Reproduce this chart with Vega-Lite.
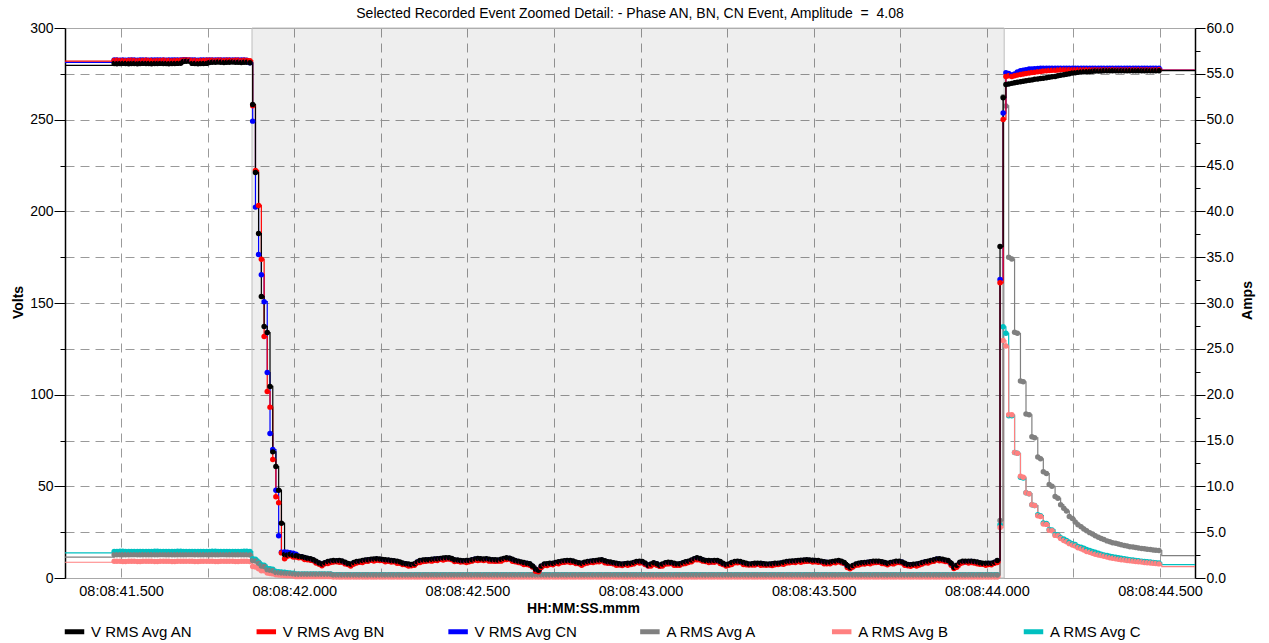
{
  "$schema": "https://vega.github.io/schema/vega-lite/v6.json",
  "width": 1130,
  "height": 550,
  "autosize": {"type": "none"},
  "padding": {"left": 65, "top": 28, "right": 74, "bottom": 65},
  "background": "white",
  "title": {
    "text": "Selected Recorded Event Zoomed Detail: - Phase AN, BN, CN Event, Amplitude\u00a0 =\u00a0 4.08",
    "font": "Liberation Sans",
    "fontSize": 14,
    "fontWeight": "normal",
    "color": "#000000",
    "anchor": "middle",
    "frame": "group",
    "offset": 0
  },
  "config": {
    "font": "Liberation Sans",
    "view": {"stroke": "#a8a8a8", "strokeWidth": 1},
    "axis": {
      "labelFont": "Liberation Sans",
      "titleFont": "Liberation Sans",
      "labelColor": "#000000",
      "titleColor": "#000000",
      "labelFontSize": 14,
      "titleFontSize": 14,
      "titleFontWeight": "bold",
      "gridColor": "#9a9a9a",
      "gridDash": [9, 6],
      "gridWidth": 1,
      "tickColor": "#000000",
      "domainColor": "#000000"
    }
  },
  "datasets": {
    "shade": [{"t": 41.878, "t2": 44.05}],
    "rms": [
      {"t":41.338,"an":279.6,"bn":281.9,"cn":281.3,"a":2.27,"b":1.72,"c":2.75},
      {"t":41.48,"an":280.6,"bn":282.3,"cn":282.5,"a":2.54,"b":1.82,"c":2.9},
      {"t":41.488,"an":280.5,"bn":282.4,"cn":282.5,"a":2.54,"b":1.82,"c":2.9},
      {"t":41.497,"an":280.6,"bn":282.3,"cn":282.4,"a":2.53,"b":1.82,"c":2.91},
      {"t":41.505,"an":280.7,"bn":282.3,"cn":282.5,"a":2.53,"b":1.81,"c":2.91},
      {"t":41.513,"an":280.6,"bn":282.2,"cn":282.4,"a":2.54,"b":1.81,"c":2.9},
      {"t":41.522,"an":280.5,"bn":282.3,"cn":282.5,"a":2.54,"b":1.82,"c":2.9},
      {"t":41.53,"an":280.6,"bn":282.4,"cn":282.6,"a":2.55,"b":1.82,"c":2.9},
      {"t":41.538,"an":280.6,"bn":282.3,"cn":282.5,"a":2.55,"b":1.82,"c":2.9},
      {"t":41.547,"an":280.5,"bn":282.2,"cn":282.4,"a":2.54,"b":1.81,"c":2.89},
      {"t":41.555,"an":280.6,"bn":282.3,"cn":282.5,"a":2.54,"b":1.81,"c":2.89},
      {"t":41.563,"an":280.7,"bn":282.3,"cn":282.5,"a":2.53,"b":1.82,"c":2.9},
      {"t":41.572,"an":280.6,"bn":282.4,"cn":282.5,"a":2.53,"b":1.82,"c":2.9},
      {"t":41.58,"an":280.6,"bn":282.3,"cn":282.4,"a":2.54,"b":1.82,"c":2.9},
      {"t":41.588,"an":280.5,"bn":282.3,"cn":282.5,"a":2.54,"b":1.82,"c":2.9},
      {"t":41.597,"an":280.6,"bn":282.2,"cn":282.5,"a":2.54,"b":1.81,"c":2.91},
      {"t":41.605,"an":280.6,"bn":282.3,"cn":282.6,"a":2.54,"b":1.81,"c":2.91},
      {"t":41.613,"an":280.7,"bn":282.3,"cn":282.5,"a":2.55,"b":1.82,"c":2.9},
      {"t":41.622,"an":280.6,"bn":282.4,"cn":282.5,"a":2.55,"b":1.82,"c":2.9},
      {"t":41.63,"an":280.6,"bn":282.3,"cn":282.4,"a":2.54,"b":1.82,"c":2.9},
      {"t":41.638,"an":280.5,"bn":282.3,"cn":282.5,"a":2.54,"b":1.82,"c":2.9},
      {"t":41.647,"an":280.6,"bn":282.2,"cn":282.5,"a":2.53,"b":1.81,"c":2.9},
      {"t":41.655,"an":280.6,"bn":282.3,"cn":282.5,"a":2.53,"b":1.81,"c":2.9},
      {"t":41.663,"an":280.7,"bn":282.3,"cn":282.6,"a":2.54,"b":1.82,"c":2.91},
      {"t":41.672,"an":280.8,"bn":282.4,"cn":282.6,"a":2.54,"b":1.82,"c":2.91},
      {"t":41.68,"an":281.7,"bn":282.5,"cn":282.7,"a":2.54,"b":1.82,"c":2.9},
      {"t":41.688,"an":281.9,"bn":282.6,"cn":282.7,"a":2.54,"b":1.82,"c":2.9},
      {"t":41.697,"an":281.8,"bn":282.5,"cn":282.6,"a":2.55,"b":1.82,"c":2.9},
      {"t":41.705,"an":280.7,"bn":282.3,"cn":282.5,"a":2.55,"b":1.82,"c":2.9},
      {"t":41.713,"an":280.6,"bn":282.3,"cn":282.5,"a":2.54,"b":1.81,"c":2.9},
      {"t":41.722,"an":280.5,"bn":282.2,"cn":282.4,"a":2.54,"b":1.81,"c":2.9},
      {"t":41.73,"an":280.6,"bn":282.3,"cn":282.5,"a":2.54,"b":1.82,"c":2.9},
      {"t":41.738,"an":280.6,"bn":282.3,"cn":282.5,"a":2.54,"b":1.82,"c":2.9},
      {"t":41.747,"an":280.7,"bn":282.4,"cn":282.5,"a":2.53,"b":1.82,"c":2.9},
      {"t":41.755,"an":281.2,"bn":282.4,"cn":282.6,"a":2.53,"b":1.82,"c":2.9},
      {"t":41.763,"an":281.3,"bn":282.4,"cn":282.6,"a":2.54,"b":1.82,"c":2.91},
      {"t":41.772,"an":281.3,"bn":282.3,"cn":282.5,"a":2.54,"b":1.81,"c":2.91},
      {"t":41.78,"an":281.4,"bn":282.4,"cn":282.6,"a":2.54,"b":1.81,"c":2.9},
      {"t":41.788,"an":281.3,"bn":282.4,"cn":282.6,"a":2.55,"b":1.82,"c":2.9},
      {"t":41.797,"an":281.2,"bn":282.3,"cn":282.5,"a":2.55,"b":1.82,"c":2.9},
      {"t":41.805,"an":281.3,"bn":282.4,"cn":282.5,"a":2.54,"b":1.82,"c":2.9},
      {"t":41.813,"an":281.3,"bn":282.4,"cn":282.6,"a":2.54,"b":1.82,"c":2.9},
      {"t":41.822,"an":281.4,"bn":282.3,"cn":282.6,"a":2.54,"b":1.82,"c":2.9},
      {"t":41.83,"an":281.3,"bn":282.4,"cn":282.5,"a":2.53,"b":1.81,"c":2.9},
      {"t":41.838,"an":281.3,"bn":282.4,"cn":282.5,"a":2.53,"b":1.81,"c":2.9},
      {"t":41.847,"an":281.2,"bn":282.3,"cn":282.5,"a":2.54,"b":1.82,"c":2.9},
      {"t":41.855,"an":281.3,"bn":282.4,"cn":282.6,"a":2.54,"b":1.82,"c":2.91},
      {"t":41.863,"an":281.3,"bn":282.3,"cn":282.4,"a":2.54,"b":1.82,"c":2.91},
      {"t":41.872,"an":281.0,"bn":282.2,"cn":281.0,"a":2.5,"b":1.8,"c":2.88},
      {"t":41.88,"an":258.3,"bn":257.6,"cn":249.2,"a":1.9,"b":1.25,"c":2.1},
      {"t":41.888,"an":221.2,"bn":222.3,"cn":202.3,"a":1.85,"b":1.2,"c":2.05},
      {"t":41.897,"an":187.9,"bn":203.2,"cn":176.5,"a":1.6,"b":1.0,"c":1.75},
      {"t":41.905,"an":153.6,"bn":173.9,"cn":165.4,"a":1.3,"b":0.8,"c":1.45},
      {"t":41.913,"an":137.2,"bn":131.7,"cn":150.7,"a":1.25,"b":0.8,"c":1.4},
      {"t":41.922,"an":133.9,"bn":101.7,"cn":112.1,"a":0.9,"b":0.55,"c":1.05},
      {"t":41.93,"an":104.5,"bn":93.2,"cn":78.8,"a":0.85,"b":0.5,"c":1.0},
      {"t":41.938,"an":68.8,"bn":64.6,"cn":70.1,"a":0.8,"b":0.45,"c":0.95},
      {"t":41.947,"an":60.8,"bn":44.3,"cn":47.9,"a":0.6,"b":0.35,"c":0.7},
      {"t":41.955,"an":47.9,"bn":41.0,"cn":23.0,"a":0.58,"b":0.33,"c":0.68},
      {"t":41.963,"an":29.9,"bn":13.7,"cn":14.0,"a":0.55,"b":0.3,"c":0.65},
      {"t":41.972,"an":12.8,"bn":10.5,"cn":14.2,"a":0.52,"b":0.28,"c":0.62},
      {"t":41.98,"an":12.6,"bn":11.8,"cn":14.0,"a":0.5,"b":0.25,"c":0.58},
      {"t":41.988,"an":12.9,"bn":12.3,"cn":13.8,"a":0.48,"b":0.24,"c":0.55},
      {"t":41.997,"an":12.4,"bn":11.4,"cn":13.5,"a":0.45,"b":0.22,"c":0.52},
      {"t":42.005,"an":12.2,"bn":11.5,"cn":13.0,"a":0.4,"b":0.15,"c":0.45},
      {"t":42.013,"an":11.9,"bn":11.0,"cn":11.4,"a":0.4,"b":0.15,"c":0.45},
      {"t":42.022,"an":11.6,"bn":11.1,"cn":11.4,"a":0.4,"b":0.15,"c":0.45},
      {"t":42.03,"an":11.2,"bn":10.1,"cn":10.9,"a":0.4,"b":0.15,"c":0.45},
      {"t":42.038,"an":10.8,"bn":10.0,"cn":10.6,"a":0.4,"b":0.15,"c":0.45},
      {"t":42.047,"an":10.5,"bn":9.7,"cn":10.1,"a":0.4,"b":0.15,"c":0.45},
      {"t":42.055,"an":10.0,"bn":9.4,"cn":9.7,"a":0.4,"b":0.15,"c":0.45},
      {"t":42.063,"an":9.2,"bn":8.2,"cn":8.7,"a":0.4,"b":0.15,"c":0.45},
      {"t":42.072,"an":8.2,"bn":7.5,"cn":8.0,"a":0.4,"b":0.15,"c":0.45},
      {"t":42.08,"an":7.6,"bn":6.7,"cn":7.3,"a":0.4,"b":0.15,"c":0.45},
      {"t":42.088,"an":8.3,"bn":7.8,"cn":8.1,"a":0.4,"b":0.15,"c":0.45},
      {"t":42.097,"an":9.0,"bn":7.9,"cn":8.6,"a":0.4,"b":0.15,"c":0.45},
      {"t":42.105,"an":9.3,"bn":8.5,"cn":9.0,"a":0.4,"b":0.15,"c":0.45},
      {"t":42.113,"an":9.5,"bn":8.7,"cn":9.0,"a":0.32,"b":0.1,"c":0.36},
      {"t":42.122,"an":9.4,"bn":8.8,"cn":9.2,"a":0.32,"b":0.1,"c":0.36},
      {"t":42.13,"an":9.6,"bn":8.6,"cn":9.2,"a":0.32,"b":0.1,"c":0.36},
      {"t":42.138,"an":9.3,"bn":8.6,"cn":9.0,"a":0.32,"b":0.1,"c":0.36},
      {"t":42.147,"an":8.6,"bn":7.7,"cn":8.1,"a":0.32,"b":0.1,"c":0.36},
      {"t":42.155,"an":7.9,"bn":7.4,"cn":7.7,"a":0.32,"b":0.1,"c":0.36},
      {"t":42.163,"an":7.6,"bn":6.5,"cn":7.3,"a":0.32,"b":0.1,"c":0.36},
      {"t":42.172,"an":8.4,"bn":7.6,"cn":8.2,"a":0.32,"b":0.1,"c":0.36},
      {"t":42.18,"an":9.0,"bn":8.2,"cn":8.6,"a":0.32,"b":0.1,"c":0.36},
      {"t":42.188,"an":9.2,"bn":8.6,"cn":8.9,"a":0.32,"b":0.1,"c":0.36},
      {"t":42.197,"an":9.5,"bn":8.5,"cn":9.0,"a":0.32,"b":0.1,"c":0.36},
      {"t":42.205,"an":9.8,"bn":9.1,"cn":9.6,"a":0.32,"b":0.1,"c":0.36},
      {"t":42.213,"an":10.0,"bn":9.1,"cn":9.7,"a":0.32,"b":0.1,"c":0.36},
      {"t":42.222,"an":10.2,"bn":9.7,"cn":10.0,"a":0.32,"b":0.1,"c":0.36},
      {"t":42.23,"an":10.4,"bn":9.3,"cn":10.0,"a":0.32,"b":0.1,"c":0.36},
      {"t":42.238,"an":10.5,"bn":9.7,"cn":10.2,"a":0.32,"b":0.1,"c":0.36},
      {"t":42.247,"an":10.4,"bn":9.6,"cn":9.9,"a":0.32,"b":0.1,"c":0.36},
      {"t":42.255,"an":10.1,"bn":9.5,"cn":9.9,"a":0.32,"b":0.1,"c":0.36},
      {"t":42.263,"an":9.9,"bn":8.9,"cn":9.5,"a":0.32,"b":0.1,"c":0.36},
      {"t":42.272,"an":9.8,"bn":9.1,"cn":9.5,"a":0.32,"b":0.1,"c":0.36},
      {"t":42.28,"an":9.6,"bn":8.7,"cn":9.3,"a":0.32,"b":0.1,"c":0.36},
      {"t":42.288,"an":9.4,"bn":8.9,"cn":9.2,"a":0.32,"b":0.1,"c":0.36},
      {"t":42.297,"an":9.2,"bn":8.1,"cn":8.8,"a":0.32,"b":0.1,"c":0.36},
      {"t":42.305,"an":8.8,"bn":8.0,"cn":8.5,"a":0.32,"b":0.1,"c":0.36},
      {"t":42.313,"an":8.2,"bn":7.4,"cn":7.7,"a":0.32,"b":0.1,"c":0.36},
      {"t":42.322,"an":7.8,"bn":7.2,"cn":7.6,"a":0.32,"b":0.1,"c":0.36},
      {"t":42.33,"an":7.6,"bn":6.6,"cn":7.2,"a":0.32,"b":0.1,"c":0.36},
      {"t":42.338,"an":7.4,"bn":6.7,"cn":7.1,"a":0.32,"b":0.1,"c":0.36},
      {"t":42.347,"an":7.8,"bn":6.9,"cn":7.3,"a":0.32,"b":0.1,"c":0.36},
      {"t":42.355,"an":8.8,"bn":8.3,"cn":8.6,"a":0.32,"b":0.1,"c":0.36},
      {"t":42.363,"an":9.6,"bn":8.5,"cn":9.2,"a":0.32,"b":0.1,"c":0.36},
      {"t":42.372,"an":9.8,"bn":9.0,"cn":9.5,"a":0.32,"b":0.1,"c":0.36},
      {"t":42.38,"an":9.9,"bn":9.1,"cn":9.6,"a":0.32,"b":0.1,"c":0.36},
      {"t":42.388,"an":10.0,"bn":9.4,"cn":9.8,"a":0.32,"b":0.1,"c":0.36},
      {"t":42.397,"an":10.2,"bn":9.2,"cn":9.7,"a":0.32,"b":0.1,"c":0.36},
      {"t":42.405,"an":10.4,"bn":9.7,"cn":10.2,"a":0.32,"b":0.1,"c":0.36},
      {"t":42.413,"an":10.5,"bn":9.6,"cn":10.2,"a":0.32,"b":0.1,"c":0.36},
      {"t":42.422,"an":10.7,"bn":10.2,"cn":10.5,"a":0.32,"b":0.1,"c":0.36},
      {"t":42.43,"an":10.9,"bn":9.8,"cn":10.5,"a":0.32,"b":0.1,"c":0.36},
      {"t":42.438,"an":11.0,"bn":10.2,"cn":10.7,"a":0.32,"b":0.1,"c":0.36},
      {"t":42.447,"an":11.1,"bn":10.3,"cn":10.6,"a":0.32,"b":0.1,"c":0.36},
      {"t":42.455,"an":10.6,"bn":10.0,"cn":10.4,"a":0.32,"b":0.1,"c":0.36},
      {"t":42.463,"an":10.0,"bn":9.0,"cn":9.6,"a":0.32,"b":0.1,"c":0.36},
      {"t":42.472,"an":9.8,"bn":9.1,"cn":9.5,"a":0.32,"b":0.1,"c":0.36},
      {"t":42.48,"an":9.6,"bn":8.7,"cn":9.1,"a":0.32,"b":0.1,"c":0.36},
      {"t":42.488,"an":9.4,"bn":8.9,"cn":9.2,"a":0.32,"b":0.1,"c":0.36},
      {"t":42.497,"an":9.5,"bn":8.4,"cn":9.1,"a":0.32,"b":0.1,"c":0.36},
      {"t":42.505,"an":9.6,"bn":8.8,"cn":9.3,"a":0.32,"b":0.1,"c":0.36},
      {"t":42.513,"an":10.0,"bn":9.2,"cn":9.7,"a":0.32,"b":0.1,"c":0.36},
      {"t":42.522,"an":10.4,"bn":9.8,"cn":10.2,"a":0.32,"b":0.1,"c":0.36},
      {"t":42.53,"an":10.6,"bn":9.6,"cn":10.2,"a":0.32,"b":0.1,"c":0.36},
      {"t":42.538,"an":10.5,"bn":9.8,"cn":10.2,"a":0.32,"b":0.1,"c":0.36},
      {"t":42.547,"an":10.4,"bn":9.5,"cn":9.9,"a":0.32,"b":0.1,"c":0.36},
      {"t":42.555,"an":10.5,"bn":10.0,"cn":10.3,"a":0.32,"b":0.1,"c":0.36},
      {"t":42.563,"an":10.3,"bn":9.2,"cn":9.9,"a":0.32,"b":0.1,"c":0.36},
      {"t":42.572,"an":10.0,"bn":9.2,"cn":9.7,"a":0.32,"b":0.1,"c":0.36},
      {"t":42.58,"an":9.9,"bn":9.1,"cn":9.6,"a":0.32,"b":0.1,"c":0.36},
      {"t":42.588,"an":9.8,"bn":9.2,"cn":9.6,"a":0.32,"b":0.1,"c":0.36},
      {"t":42.597,"an":10.2,"bn":9.2,"cn":9.8,"a":0.32,"b":0.1,"c":0.36},
      {"t":42.605,"an":10.6,"bn":9.9,"cn":10.3,"a":0.32,"b":0.1,"c":0.36},
      {"t":42.613,"an":11.0,"bn":10.1,"cn":10.5,"a":0.32,"b":0.1,"c":0.36},
      {"t":42.622,"an":10.8,"bn":10.3,"cn":10.6,"a":0.32,"b":0.1,"c":0.36},
      {"t":42.63,"an":10.2,"bn":9.1,"cn":9.9,"a":0.32,"b":0.1,"c":0.36},
      {"t":42.638,"an":9.6,"bn":8.8,"cn":9.4,"a":0.32,"b":0.1,"c":0.36},
      {"t":42.647,"an":9.2,"bn":8.4,"cn":8.8,"a":0.32,"b":0.1,"c":0.36},
      {"t":42.655,"an":8.8,"bn":8.2,"cn":8.5,"a":0.32,"b":0.1,"c":0.36},
      {"t":42.663,"an":8.4,"bn":7.4,"cn":7.9,"a":0.32,"b":0.1,"c":0.36},
      {"t":42.672,"an":8.1,"bn":7.4,"cn":7.9,"a":0.32,"b":0.1,"c":0.36},
      {"t":42.68,"an":7.8,"bn":6.9,"cn":7.5,"a":0.32,"b":0.1,"c":0.36},
      {"t":42.688,"an":6.5,"bn":6.0,"cn":6.3,"a":0.32,"b":0.1,"c":0.36},
      {"t":42.697,"an":4.8,"bn":3.7,"cn":4.4,"a":0.32,"b":0.1,"c":0.36},
      {"t":42.705,"an":4.2,"bn":3.4,"cn":3.9,"a":0.32,"b":0.1,"c":0.36},
      {"t":42.713,"an":6.5,"bn":5.7,"cn":6.0,"a":0.32,"b":0.1,"c":0.36},
      {"t":42.722,"an":7.6,"bn":7.0,"cn":7.4,"a":0.32,"b":0.1,"c":0.36},
      {"t":42.73,"an":7.8,"bn":6.8,"cn":7.4,"a":0.32,"b":0.1,"c":0.36},
      {"t":42.738,"an":8.0,"bn":7.3,"cn":7.7,"a":0.32,"b":0.1,"c":0.36},
      {"t":42.747,"an":8.1,"bn":7.2,"cn":7.8,"a":0.32,"b":0.1,"c":0.36},
      {"t":42.755,"an":8.5,"bn":8.0,"cn":8.3,"a":0.32,"b":0.1,"c":0.36},
      {"t":42.763,"an":8.9,"bn":7.8,"cn":8.5,"a":0.32,"b":0.1,"c":0.36},
      {"t":42.772,"an":9.2,"bn":8.4,"cn":8.9,"a":0.32,"b":0.1,"c":0.36},
      {"t":42.78,"an":9.4,"bn":8.6,"cn":8.9,"a":0.32,"b":0.1,"c":0.36},
      {"t":42.788,"an":9.5,"bn":8.9,"cn":9.3,"a":0.32,"b":0.1,"c":0.36},
      {"t":42.797,"an":9.5,"bn":8.5,"cn":9.1,"a":0.32,"b":0.1,"c":0.36},
      {"t":42.805,"an":9.3,"bn":8.6,"cn":9.0,"a":0.32,"b":0.1,"c":0.36},
      {"t":42.813,"an":8.8,"bn":7.9,"cn":8.3,"a":0.32,"b":0.1,"c":0.36},
      {"t":42.822,"an":8.3,"bn":7.8,"cn":8.1,"a":0.32,"b":0.1,"c":0.36},
      {"t":42.83,"an":8.1,"bn":7.0,"cn":7.7,"a":0.32,"b":0.1,"c":0.36},
      {"t":42.838,"an":8.6,"bn":7.8,"cn":8.3,"a":0.32,"b":0.1,"c":0.36},
      {"t":42.847,"an":9.0,"bn":8.2,"cn":8.5,"a":0.32,"b":0.1,"c":0.36},
      {"t":42.855,"an":9.2,"bn":8.6,"cn":9.0,"a":0.32,"b":0.1,"c":0.36},
      {"t":42.863,"an":9.4,"bn":8.4,"cn":9.0,"a":0.32,"b":0.1,"c":0.36},
      {"t":42.872,"an":9.6,"bn":8.9,"cn":9.3,"a":0.32,"b":0.1,"c":0.36},
      {"t":42.88,"an":9.8,"bn":8.9,"cn":9.3,"a":0.32,"b":0.1,"c":0.36},
      {"t":42.888,"an":9.9,"bn":9.4,"cn":9.7,"a":0.32,"b":0.1,"c":0.36},
      {"t":42.897,"an":9.4,"bn":8.3,"cn":9.0,"a":0.32,"b":0.1,"c":0.36},
      {"t":42.905,"an":8.9,"bn":8.1,"cn":8.6,"a":0.32,"b":0.1,"c":0.36},
      {"t":42.913,"an":8.7,"bn":8.1,"cn":8.2,"a":0.32,"b":0.1,"c":0.36},
      {"t":42.922,"an":8.3,"bn":7.7,"cn":8.1,"a":0.32,"b":0.1,"c":0.36},
      {"t":42.93,"an":8.0,"bn":7.0,"cn":7.6,"a":0.32,"b":0.1,"c":0.36},
      {"t":42.938,"an":7.8,"bn":7.1,"cn":7.5,"a":0.32,"b":0.1,"c":0.36},
      {"t":42.947,"an":7.7,"bn":6.8,"cn":7.2,"a":0.32,"b":0.1,"c":0.36},
      {"t":42.955,"an":7.8,"bn":7.3,"cn":7.6,"a":0.32,"b":0.1,"c":0.36},
      {"t":42.963,"an":8.0,"bn":6.9,"cn":7.6,"a":0.32,"b":0.1,"c":0.36},
      {"t":42.972,"an":8.1,"bn":7.3,"cn":7.8,"a":0.32,"b":0.1,"c":0.36},
      {"t":42.98,"an":8.5,"bn":7.7,"cn":8.2,"a":0.32,"b":0.1,"c":0.36},
      {"t":42.988,"an":9.0,"bn":8.4,"cn":8.8,"a":0.32,"b":0.1,"c":0.36},
      {"t":42.997,"an":9.2,"bn":8.2,"cn":8.7,"a":0.32,"b":0.1,"c":0.36},
      {"t":43.005,"an":9.0,"bn":8.3,"cn":8.8,"a":0.32,"b":0.1,"c":0.36},
      {"t":43.013,"an":8.2,"bn":7.3,"cn":7.8,"a":0.32,"b":0.1,"c":0.36},
      {"t":43.022,"an":7.0,"bn":6.5,"cn":6.7,"a":0.32,"b":0.1,"c":0.36},
      {"t":43.03,"an":7.6,"bn":6.5,"cn":7.3,"a":0.32,"b":0.1,"c":0.36},
      {"t":43.038,"an":8.3,"bn":7.5,"cn":8.1,"a":0.32,"b":0.1,"c":0.36},
      {"t":43.047,"an":7.8,"bn":7.0,"cn":7.6,"a":0.32,"b":0.1,"c":0.36},
      {"t":43.055,"an":7.0,"bn":6.4,"cn":6.6,"a":0.32,"b":0.1,"c":0.36},
      {"t":43.063,"an":7.6,"bn":6.6,"cn":7.3,"a":0.32,"b":0.1,"c":0.36},
      {"t":43.072,"an":8.3,"bn":7.6,"cn":8.0,"a":0.32,"b":0.1,"c":0.36},
      {"t":43.08,"an":8.6,"bn":7.7,"cn":8.1,"a":0.32,"b":0.1,"c":0.36},
      {"t":43.088,"an":8.4,"bn":7.9,"cn":8.2,"a":0.32,"b":0.1,"c":0.36},
      {"t":43.097,"an":8.0,"bn":6.9,"cn":7.6,"a":0.32,"b":0.1,"c":0.36},
      {"t":43.105,"an":7.7,"bn":6.9,"cn":7.4,"a":0.32,"b":0.1,"c":0.36},
      {"t":43.113,"an":7.8,"bn":7.0,"cn":7.5,"a":0.32,"b":0.1,"c":0.36},
      {"t":43.122,"an":8.3,"bn":7.7,"cn":8.1,"a":0.32,"b":0.1,"c":0.36},
      {"t":43.13,"an":8.9,"bn":7.9,"cn":8.5,"a":0.32,"b":0.1,"c":0.36},
      {"t":43.138,"an":9.2,"bn":8.5,"cn":8.9,"a":0.32,"b":0.1,"c":0.36},
      {"t":43.147,"an":9.8,"bn":8.9,"cn":9.3,"a":0.32,"b":0.1,"c":0.36},
      {"t":43.155,"an":10.5,"bn":10.0,"cn":10.3,"a":0.32,"b":0.1,"c":0.36},
      {"t":43.163,"an":11.0,"bn":9.9,"cn":10.7,"a":0.32,"b":0.1,"c":0.36},
      {"t":43.172,"an":10.6,"bn":9.8,"cn":10.2,"a":0.32,"b":0.1,"c":0.36},
      {"t":43.18,"an":10.0,"bn":9.2,"cn":9.7,"a":0.32,"b":0.1,"c":0.36},
      {"t":43.188,"an":9.6,"bn":9.0,"cn":9.4,"a":0.32,"b":0.1,"c":0.36},
      {"t":43.197,"an":9.5,"bn":8.5,"cn":9.2,"a":0.32,"b":0.1,"c":0.36},
      {"t":43.205,"an":9.4,"bn":8.7,"cn":8.9,"a":0.32,"b":0.1,"c":0.36},
      {"t":43.213,"an":9.5,"bn":8.6,"cn":9.3,"a":0.32,"b":0.1,"c":0.36},
      {"t":43.222,"an":9.5,"bn":9.0,"cn":9.2,"a":0.32,"b":0.1,"c":0.36},
      {"t":43.23,"an":9.0,"bn":7.9,"cn":8.6,"a":0.32,"b":0.1,"c":0.36},
      {"t":43.238,"an":8.1,"bn":7.3,"cn":7.8,"a":0.32,"b":0.1,"c":0.36},
      {"t":43.247,"an":7.4,"bn":6.6,"cn":6.9,"a":0.32,"b":0.1,"c":0.36},
      {"t":43.255,"an":7.6,"bn":7.0,"cn":7.4,"a":0.32,"b":0.1,"c":0.36},
      {"t":43.263,"an":8.4,"bn":7.4,"cn":8.1,"a":0.32,"b":0.1,"c":0.36},
      {"t":43.272,"an":9.0,"bn":8.3,"cn":8.8,"a":0.32,"b":0.1,"c":0.36},
      {"t":43.28,"an":9.2,"bn":8.3,"cn":8.8,"a":0.32,"b":0.1,"c":0.36},
      {"t":43.288,"an":9.0,"bn":8.5,"cn":8.7,"a":0.32,"b":0.1,"c":0.36},
      {"t":43.297,"an":8.5,"bn":7.4,"cn":8.0,"a":0.32,"b":0.1,"c":0.36},
      {"t":43.305,"an":8.0,"bn":7.2,"cn":7.8,"a":0.32,"b":0.1,"c":0.36},
      {"t":43.313,"an":7.7,"bn":7.1,"cn":7.4,"a":0.32,"b":0.1,"c":0.36},
      {"t":43.322,"an":7.8,"bn":7.1,"cn":7.5,"a":0.32,"b":0.1,"c":0.36},
      {"t":43.33,"an":8.0,"bn":7.1,"cn":7.6,"a":0.32,"b":0.1,"c":0.36},
      {"t":43.338,"an":8.1,"bn":7.6,"cn":7.8,"a":0.32,"b":0.1,"c":0.36},
      {"t":43.347,"an":8.0,"bn":7.0,"cn":7.5,"a":0.32,"b":0.1,"c":0.36},
      {"t":43.355,"an":7.8,"bn":7.1,"cn":7.6,"a":0.32,"b":0.1,"c":0.36},
      {"t":43.363,"an":7.7,"bn":6.9,"cn":7.3,"a":0.32,"b":0.1,"c":0.36},
      {"t":43.372,"an":7.7,"bn":7.1,"cn":7.4,"a":0.32,"b":0.1,"c":0.36},
      {"t":43.38,"an":7.8,"bn":6.8,"cn":7.5,"a":0.32,"b":0.1,"c":0.36},
      {"t":43.388,"an":8.0,"bn":7.2,"cn":7.8,"a":0.32,"b":0.1,"c":0.36},
      {"t":43.397,"an":8.1,"bn":7.3,"cn":7.6,"a":0.32,"b":0.1,"c":0.36},
      {"t":43.405,"an":8.2,"bn":7.7,"cn":8.0,"a":0.32,"b":0.1,"c":0.36},
      {"t":43.413,"an":8.6,"bn":7.5,"cn":8.2,"a":0.32,"b":0.1,"c":0.36},
      {"t":43.422,"an":9.0,"bn":8.2,"cn":8.7,"a":0.32,"b":0.1,"c":0.36},
      {"t":43.43,"an":9.2,"bn":8.3,"cn":8.9,"a":0.32,"b":0.1,"c":0.36},
      {"t":43.438,"an":9.3,"bn":8.6,"cn":9.0,"a":0.32,"b":0.1,"c":0.36},
      {"t":43.447,"an":9.4,"bn":8.4,"cn":8.9,"a":0.32,"b":0.1,"c":0.36},
      {"t":43.455,"an":9.5,"bn":9.0,"cn":9.3,"a":0.32,"b":0.1,"c":0.36},
      {"t":43.463,"an":9.7,"bn":8.6,"cn":9.3,"a":0.32,"b":0.1,"c":0.36},
      {"t":43.472,"an":9.8,"bn":9.0,"cn":9.5,"a":0.32,"b":0.1,"c":0.36},
      {"t":43.48,"an":9.9,"bn":9.1,"cn":9.6,"a":0.32,"b":0.1,"c":0.36},
      {"t":43.488,"an":9.8,"bn":9.2,"cn":9.6,"a":0.32,"b":0.1,"c":0.36},
      {"t":43.497,"an":9.7,"bn":8.7,"cn":9.2,"a":0.32,"b":0.1,"c":0.36},
      {"t":43.505,"an":9.6,"bn":8.9,"cn":9.4,"a":0.32,"b":0.1,"c":0.36},
      {"t":43.513,"an":9.5,"bn":8.6,"cn":9.1,"a":0.32,"b":0.1,"c":0.36},
      {"t":43.522,"an":9.2,"bn":8.7,"cn":8.9,"a":0.32,"b":0.1,"c":0.36},
      {"t":43.53,"an":8.9,"bn":7.8,"cn":8.6,"a":0.32,"b":0.1,"c":0.36},
      {"t":43.538,"an":8.6,"bn":7.8,"cn":8.4,"a":0.32,"b":0.1,"c":0.36},
      {"t":43.547,"an":8.7,"bn":7.8,"cn":8.2,"a":0.32,"b":0.1,"c":0.36},
      {"t":43.555,"an":9.0,"bn":8.4,"cn":8.8,"a":0.32,"b":0.1,"c":0.36},
      {"t":43.563,"an":9.3,"bn":8.3,"cn":8.9,"a":0.32,"b":0.1,"c":0.36},
      {"t":43.572,"an":9.5,"bn":8.8,"cn":9.2,"a":0.32,"b":0.1,"c":0.36},
      {"t":43.58,"an":9.2,"bn":8.3,"cn":8.9,"a":0.32,"b":0.1,"c":0.36},
      {"t":43.588,"an":8.4,"bn":7.9,"cn":8.1,"a":0.32,"b":0.1,"c":0.36},
      {"t":43.597,"an":6.8,"bn":5.7,"cn":6.4,"a":0.32,"b":0.1,"c":0.36},
      {"t":43.605,"an":5.9,"bn":5.1,"cn":5.6,"a":0.32,"b":0.1,"c":0.36},
      {"t":43.613,"an":6.8,"bn":6.0,"cn":6.3,"a":0.32,"b":0.1,"c":0.36},
      {"t":43.622,"an":7.6,"bn":7.0,"cn":7.4,"a":0.32,"b":0.1,"c":0.36},
      {"t":43.63,"an":8.1,"bn":7.1,"cn":7.7,"a":0.32,"b":0.1,"c":0.36},
      {"t":43.638,"an":8.3,"bn":7.6,"cn":8.0,"a":0.32,"b":0.1,"c":0.36},
      {"t":43.647,"an":8.5,"bn":7.6,"cn":8.0,"a":0.32,"b":0.1,"c":0.36},
      {"t":43.655,"an":8.6,"bn":8.1,"cn":8.4,"a":0.32,"b":0.1,"c":0.36},
      {"t":43.663,"an":8.9,"bn":7.8,"cn":8.6,"a":0.32,"b":0.1,"c":0.36},
      {"t":43.672,"an":9.1,"bn":8.3,"cn":8.9,"a":0.32,"b":0.1,"c":0.36},
      {"t":43.68,"an":9.2,"bn":8.4,"cn":8.8,"a":0.32,"b":0.1,"c":0.36},
      {"t":43.688,"an":9.2,"bn":8.6,"cn":8.9,"a":0.32,"b":0.1,"c":0.36},
      {"t":43.697,"an":8.9,"bn":7.9,"cn":8.4,"a":0.32,"b":0.1,"c":0.36},
      {"t":43.705,"an":8.5,"bn":7.8,"cn":8.3,"a":0.32,"b":0.1,"c":0.36},
      {"t":43.713,"an":8.1,"bn":7.2,"cn":7.8,"a":0.32,"b":0.1,"c":0.36},
      {"t":43.722,"an":8.4,"bn":7.9,"cn":8.2,"a":0.32,"b":0.1,"c":0.36},
      {"t":43.73,"an":8.8,"bn":7.7,"cn":8.4,"a":0.32,"b":0.1,"c":0.36},
      {"t":43.738,"an":9.1,"bn":8.3,"cn":8.8,"a":0.32,"b":0.1,"c":0.36},
      {"t":43.747,"an":9.2,"bn":8.4,"cn":8.7,"a":0.32,"b":0.1,"c":0.36},
      {"t":43.755,"an":8.8,"bn":8.2,"cn":8.6,"a":0.32,"b":0.1,"c":0.36},
      {"t":43.763,"an":8.0,"bn":7.0,"cn":7.7,"a":0.32,"b":0.1,"c":0.36},
      {"t":43.772,"an":7.4,"bn":6.7,"cn":7.1,"a":0.32,"b":0.1,"c":0.36},
      {"t":43.78,"an":7.3,"bn":6.4,"cn":6.9,"a":0.32,"b":0.1,"c":0.36},
      {"t":43.788,"an":7.5,"bn":7.0,"cn":7.3,"a":0.32,"b":0.1,"c":0.36},
      {"t":43.797,"an":7.7,"bn":6.6,"cn":7.4,"a":0.32,"b":0.1,"c":0.36},
      {"t":43.805,"an":7.9,"bn":7.1,"cn":7.7,"a":0.32,"b":0.1,"c":0.36},
      {"t":43.813,"an":8.4,"bn":7.6,"cn":8.1,"a":0.32,"b":0.1,"c":0.36},
      {"t":43.822,"an":8.9,"bn":8.3,"cn":8.7,"a":0.32,"b":0.1,"c":0.36},
      {"t":43.83,"an":9.2,"bn":8.2,"cn":8.7,"a":0.32,"b":0.1,"c":0.36},
      {"t":43.838,"an":9.6,"bn":8.9,"cn":9.2,"a":0.32,"b":0.1,"c":0.36},
      {"t":43.847,"an":10.0,"bn":9.1,"cn":9.7,"a":0.32,"b":0.1,"c":0.36},
      {"t":43.855,"an":10.4,"bn":9.9,"cn":10.2,"a":0.32,"b":0.1,"c":0.36},
      {"t":43.863,"an":10.5,"bn":9.4,"cn":10.2,"a":0.32,"b":0.1,"c":0.36},
      {"t":43.872,"an":10.2,"bn":9.4,"cn":10.0,"a":0.32,"b":0.1,"c":0.36},
      {"t":43.88,"an":9.8,"bn":9.0,"cn":9.4,"a":0.32,"b":0.1,"c":0.36},
      {"t":43.888,"an":9.5,"bn":8.9,"cn":9.2,"a":0.32,"b":0.1,"c":0.36},
      {"t":43.897,"an":8.0,"bn":7.0,"cn":7.5,"a":0.32,"b":0.1,"c":0.36},
      {"t":43.905,"an":5.9,"bn":5.2,"cn":5.7,"a":0.32,"b":0.1,"c":0.36},
      {"t":43.913,"an":7.0,"bn":5.9,"cn":6.6,"a":0.32,"b":0.1,"c":0.36},
      {"t":43.922,"an":8.6,"bn":7.8,"cn":8.3,"a":0.32,"b":0.1,"c":0.36},
      {"t":43.93,"an":9.2,"bn":8.3,"cn":8.7,"a":0.32,"b":0.1,"c":0.36},
      {"t":43.938,"an":9.2,"bn":8.7,"cn":8.9,"a":0.32,"b":0.1,"c":0.36},
      {"t":43.947,"an":9.2,"bn":8.2,"cn":8.9,"a":0.32,"b":0.1,"c":0.36},
      {"t":43.955,"an":9.2,"bn":8.5,"cn":9.0,"a":0.32,"b":0.1,"c":0.36},
      {"t":43.963,"an":9.0,"bn":8.2,"cn":8.6,"a":0.32,"b":0.1,"c":0.36},
      {"t":43.972,"an":8.7,"bn":7.8,"cn":8.4,"a":0.32,"b":0.1,"c":0.36},
      {"t":43.98,"an":8.3,"bn":7.5,"cn":8.0,"a":0.32,"b":0.1,"c":0.36},
      {"t":43.988,"an":8.1,"bn":7.5,"cn":7.8,"a":0.32,"b":0.1,"c":0.36},
      {"t":43.997,"an":8.0,"bn":7.0,"cn":7.6,"a":0.32,"b":0.1,"c":0.36},
      {"t":44.005,"an":8.1,"bn":7.3,"cn":7.9,"a":0.32,"b":0.1,"c":0.36},
      {"t":44.013,"an":8.1,"bn":7.2,"cn":7.9,"a":0.32,"b":0.1,"c":0.36},
      {"t":44.022,"an":8.6,"bn":8.1,"cn":8.3,"a":0.32,"b":0.1,"c":0.36},
      {"t":44.03,"an":9.5,"bn":8.4,"cn":9.3,"a":0.32,"b":0.1,"c":0.36},
      {"t":44.038,"an":180.8,"bn":161.0,"cn":162.8,"a":6.27,"b":5.5,"c":5.8},
      {"t":44.047,"an":262.0,"bn":250.1,"cn":253.6,"a":52.5,"b":25.9,"c":27.4},
      {"t":44.055,"an":269.2,"bn":273.5,"cn":275.6,"a":51.5,"b":25.3,"c":26.7},
      {"t":44.063,"an":269.5,"bn":274.0,"cn":275.2,"a":35.0,"b":17.8,"c":17.7},
      {"t":44.072,"an":269.8,"bn":273.6,"cn":274.4,"a":34.8,"b":17.8,"c":17.7},
      {"t":44.08,"an":270.1,"bn":273.9,"cn":274.9,"a":26.8,"b":13.7,"c":13.7},
      {"t":44.088,"an":270.4,"bn":274.3,"cn":276.0,"a":26.7,"b":13.6,"c":13.6},
      {"t":44.097,"an":270.7,"bn":274.6,"cn":276.7,"a":21.5,"b":11.1,"c":11.0},
      {"t":44.105,"an":271.0,"bn":274.9,"cn":277.0,"a":21.4,"b":11.0,"c":10.9},
      {"t":44.113,"an":271.2,"bn":275.2,"cn":277.3,"a":17.9,"b":9.3,"c":9.3},
      {"t":44.122,"an":271.5,"bn":275.5,"cn":277.6,"a":17.8,"b":9.2,"c":9.2},
      {"t":44.13,"an":271.7,"bn":275.7,"cn":277.7,"a":15.4,"b":8.0,"c":8.0},
      {"t":44.138,"an":272.0,"bn":275.9,"cn":277.8,"a":15.3,"b":7.9,"c":7.9},
      {"t":44.147,"an":272.2,"bn":276.1,"cn":277.9,"a":13.2,"b":6.8,"c":6.9},
      {"t":44.155,"an":272.4,"bn":276.3,"cn":278.0,"a":13.0,"b":6.7,"c":6.8},
      {"t":44.163,"an":272.6,"bn":276.5,"cn":278.0,"a":11.6,"b":5.9,"c":6.0},
      {"t":44.172,"an":272.9,"bn":276.7,"cn":278.0,"a":11.4,"b":5.85,"c":5.95},
      {"t":44.18,"an":273.1,"bn":276.8,"cn":278.0,"a":10.2,"b":5.2,"c":5.3},
      {"t":44.188,"an":273.4,"bn":276.9,"cn":278.0,"a":10.0,"b":5.15,"c":5.25},
      {"t":44.197,"an":273.6,"bn":277.0,"cn":278.0,"a":8.9,"b":4.65,"c":4.75},
      {"t":44.205,"an":273.9,"bn":277.1,"cn":278.0,"a":8.7,"b":4.6,"c":4.7},
      {"t":44.213,"an":274.2,"bn":277.2,"cn":278.0,"a":8.0,"b":4.3,"c":4.4},
      {"t":44.222,"an":274.5,"bn":277.3,"cn":278.0,"a":7.6,"b":4.1,"c":4.25},
      {"t":44.23,"an":274.8,"bn":277.3,"cn":278.0,"a":7.3,"b":3.95,"c":4.1},
      {"t":44.238,"an":275.1,"bn":277.3,"cn":278.0,"a":6.7,"b":3.75,"c":3.9},
      {"t":44.247,"an":275.4,"bn":277.3,"cn":278.0,"a":6.5,"b":3.6,"c":3.75},
      {"t":44.255,"an":275.6,"bn":277.3,"cn":278.0,"a":6.1,"b":3.5,"c":3.65},
      {"t":44.263,"an":275.8,"bn":277.3,"cn":278.0,"a":5.8,"b":3.3,"c":3.45},
      {"t":44.272,"an":276.0,"bn":277.3,"cn":278.0,"a":5.6,"b":3.2,"c":3.35},
      {"t":44.28,"an":276.1,"bn":277.3,"cn":278.0,"a":5.35,"b":3.05,"c":3.25},
      {"t":44.288,"an":276.2,"bn":277.3,"cn":278.0,"a":5.15,"b":2.9,"c":3.1},
      {"t":44.297,"an":276.3,"bn":277.3,"cn":278.0,"a":4.95,"b":2.8,"c":3.0},
      {"t":44.305,"an":276.4,"bn":277.3,"cn":278.0,"a":4.8,"b":2.7,"c":2.9},
      {"t":44.313,"an":276.5,"bn":277.3,"cn":278.0,"a":4.6,"b":2.6,"c":2.8},
      {"t":44.322,"an":276.6,"bn":277.3,"cn":278.0,"a":4.45,"b":2.5,"c":2.7},
      {"t":44.33,"an":276.6,"bn":277.3,"cn":278.0,"a":4.3,"b":2.45,"c":2.6},
      {"t":44.338,"an":276.7,"bn":277.3,"cn":278.0,"a":4.2,"b":2.38,"c":2.52},
      {"t":44.347,"an":276.7,"bn":277.3,"cn":278.0,"a":4.05,"b":2.3,"c":2.45},
      {"t":44.355,"an":276.7,"bn":277.3,"cn":278.0,"a":3.95,"b":2.22,"c":2.38},
      {"t":44.363,"an":276.7,"bn":277.3,"cn":278.0,"a":3.85,"b":2.15,"c":2.32},
      {"t":44.372,"an":276.7,"bn":277.3,"cn":278.0,"a":3.8,"b":2.1,"c":2.26},
      {"t":44.38,"an":276.7,"bn":277.3,"cn":278.0,"a":3.7,"b":2.05,"c":2.2},
      {"t":44.388,"an":276.7,"bn":277.3,"cn":278.0,"a":3.62,"b":2.0,"c":2.15},
      {"t":44.397,"an":276.7,"bn":277.3,"cn":278.0,"a":3.55,"b":1.96,"c":2.1},
      {"t":44.405,"an":276.7,"bn":277.3,"cn":278.0,"a":3.5,"b":1.92,"c":2.05},
      {"t":44.413,"an":276.7,"bn":277.3,"cn":278.0,"a":3.42,"b":1.88,"c":2.0},
      {"t":44.422,"an":276.7,"bn":277.3,"cn":278.0,"a":3.38,"b":1.84,"c":1.96},
      {"t":44.43,"an":276.7,"bn":277.3,"cn":278.0,"a":3.32,"b":1.8,"c":1.92},
      {"t":44.438,"an":276.7,"bn":277.3,"cn":278.0,"a":3.28,"b":1.77,"c":1.88},
      {"t":44.447,"an":276.7,"bn":277.3,"cn":278.0,"a":3.22,"b":1.74,"c":1.84},
      {"t":44.455,"an":276.7,"bn":277.3,"cn":278.0,"a":3.18,"b":1.7,"c":1.8},
      {"t":44.463,"an":276.7,"bn":277.3,"cn":278.0,"a":3.13,"b":1.67,"c":1.77},
      {"t":44.472,"an":276.7,"bn":277.3,"cn":278.0,"a":3.1,"b":1.64,"c":1.74},
      {"t":44.48,"an":276.7,"bn":277.3,"cn":278.0,"a":3.06,"b":1.6,"c":1.7},
      {"t":44.488,"an":276.7,"bn":277.3,"cn":278.0,"a":3.02,"b":1.57,"c":1.67},
      {"t":44.497,"an":276.7,"bn":277.3,"cn":278.0,"a":3.0,"b":1.54,"c":1.65},
      {"t":44.505,"an":276.7,"bn":277.1,"cn":277.0,"a":2.45,"b":1.25,"c":1.47},
      {"t":44.601,"an":276.7,"bn":277.1,"cn":277.0,"a":2.45,"b":1.25,"c":1.47}
    ]
  },
  "encoding": {
    "x": {
      "field": "t",
      "type": "quantitative",
      "scale": {"domain": [41.338, 44.601], "nice": false, "zero": false},
      "axis": {
        "values": [41.5, 41.75, 42, 42.25, 42.5, 42.75, 43, 43.25, 43.5, 43.75, 44, 44.25, 44.5],
        "labelExpr": "datum.value * 4 % 2 == 0 ? '08:08:' + format(datum.value, '06.3f') : ''",
        "title": "HH:MM:SS.mmm",
        "grid": true,
        "ticks": false,
        "domain": false,
        "labelFontSize": 14.5,
        "labelPadding": 6,
        "labelFlush": false,
        "labelOverlap": false,
        "titleX": 518,
        "titleY": 30,
        "titleBaseline": "middle",
        "titleAlign": "center"
      }
    }
  },
  "layer": [
    {
      "data": {"name": "shade"},
      "mark": {"type": "rect", "fill": "#000000", "fillOpacity": 0.065, "stroke": "#bdbdbd", "strokeWidth": 1},
      "encoding": {"x2": {"field": "t2"}}
    },
    {
      "data": {"name": "rms"},
      "transform": [{"fold": ["c", "b", "a"], "as": ["series", "amps"]}],
      "layer": [
        {
          "mark": {"type": "line", "interpolate": "step-after", "strokeWidth": 1.2},
          "encoding": {
            "y": {
              "field": "amps",
              "type": "quantitative",
              "scale": {"domain": [0, 60], "nice": false, "zero": false},
              "axis": {
                "orient": "right",
                "values": [0, 5, 10, 15, 20, 25, 30, 35, 40, 45, 50, 55, 60],
                "format": ".1f",
                "title": "Amps",
                "tickSize": 10,
                "labelPadding": 1,
                "grid": false,
                "domainWidth": 1.5,
                "titleAngle": -90,
                "titleX": 52,
                "titleY": 272,
                "titleBaseline": "middle",
                "titleAlign": "center"
              }
            },
            "color": {
              "field": "series",
              "type": "nominal",
              "scale": {
                "domain": ["an", "bn", "cn", "a", "b", "c"],
                "range": ["#000000", "#ff0000", "#0000ff", "#808080", "#ff8080", "#00c0c0"]
              },
              "legend": {
                "orient": "none",
                "legendX": -3,
                "legendY": 591,
                "direction": "horizontal",
                "columns": 6,
                "title": null,
                "symbolType": "stroke",
                "symbolStrokeWidth": 5,
                "symbolSize": 380,
                "labelFont": "Liberation Sans",
                "labelFontSize": 15,
                "labelColor": "#000000",
                "labelOffset": 4,
                "labelLimit": 200,
                "columnPadding": 50.8,
                "gridAlign": "all",
                "labelExpr": "datum.label == 'an' ? 'V RMS Avg AN' : datum.label == 'bn' ? 'V RMS Avg BN' : datum.label == 'cn' ? 'V RMS Avg CN' : datum.label == 'a' ? 'A RMS Avg A' : datum.label == 'b' ? 'A RMS Avg B' : 'A RMS Avg C'",
                "encode": {"symbols": {"update": {"strokeWidth": {"value": 5}}}}
              }
            }
          }
        },
        {
          "transform": [{"filter": "datum.t >= 41.47 && datum.t <= 44.5"}],
          "mark": {"type": "point", "filled": true, "size": 30, "opacity": 1},
          "encoding": {
            "y": {
              "field": "amps",
              "type": "quantitative",
              "axis": {
                "orient": "right",
                "values": [2.5, 7.5, 12.5, 17.5, 22.5, 27.5, 32.5, 37.5, 42.5, 47.5, 52.5, 57.5],
                "labels": false,
                "tickSize": 5,
                "domain": false,
                "grid": false,
                "title": null
              }
            },
            "color": {"field": "series", "type": "nominal", "legend": null}
          }
        }
      ],
      "resolve": {"axis": {"y": "independent"}}
    },
    {
      "data": {"name": "rms"},
      "transform": [{"fold": ["cn", "bn", "an"], "as": ["series", "volts"]}],
      "layer": [
        {
          "mark": {"type": "line", "interpolate": "step-after", "strokeWidth": 1.2},
          "encoding": {
            "y": {
              "field": "volts",
              "type": "quantitative",
              "scale": {"domain": [0, 300], "nice": false, "zero": false},
              "axis": {
                "orient": "left",
                "values": [0, 50, 100, 150, 200, 250, 300],
                "title": "Volts",
                "tickSize": 11,
                "labelPadding": 1,
                "grid": false,
                "domainWidth": 1.5,
                "titleAngle": -90,
                "titleX": -47,
                "titleY": 274,
                "titleBaseline": "middle",
                "titleAlign": "center"
              }
            },
            "color": {
              "field": "series",
              "type": "nominal",
              "scale": {
                "domain": ["an", "bn", "cn", "a", "b", "c"],
                "range": ["#000000", "#ff0000", "#0000ff", "#808080", "#ff8080", "#00c0c0"]
              },
              "legend": {
                "orient": "none",
                "legendX": -3,
                "legendY": 591,
                "direction": "horizontal",
                "columns": 6,
                "title": null,
                "symbolType": "stroke",
                "symbolStrokeWidth": 5,
                "symbolSize": 380,
                "labelFont": "Liberation Sans",
                "labelFontSize": 15,
                "labelColor": "#000000",
                "labelOffset": 4,
                "labelLimit": 200,
                "columnPadding": 50.8,
                "gridAlign": "all",
                "labelExpr": "datum.label == 'an' ? 'V RMS Avg AN' : datum.label == 'bn' ? 'V RMS Avg BN' : datum.label == 'cn' ? 'V RMS Avg CN' : datum.label == 'a' ? 'A RMS Avg A' : datum.label == 'b' ? 'A RMS Avg B' : 'A RMS Avg C'",
                "encode": {"symbols": {"update": {"strokeWidth": {"value": 5}}}}
              }
            }
          }
        },
        {
          "transform": [{"filter": "datum.t >= 41.47 && datum.t <= 44.5"}],
          "mark": {"type": "point", "filled": true, "size": 30, "opacity": 1},
          "encoding": {
            "y": {
              "field": "volts",
              "type": "quantitative",
              "axis": {
                "orient": "left",
                "values": [25, 50, 75, 100, 125, 150, 175, 200, 225, 250, 275],
                "labels": false,
                "tickSize": 5,
                "domain": false,
                "grid": true,
                "title": null
              }
            },
            "color": {"field": "series", "type": "nominal", "legend": null}
          }
        }
      ],
      "resolve": {"axis": {"y": "independent"}}
    }
  ],
  "resolve": {"scale": {"y": "independent"}}
}
